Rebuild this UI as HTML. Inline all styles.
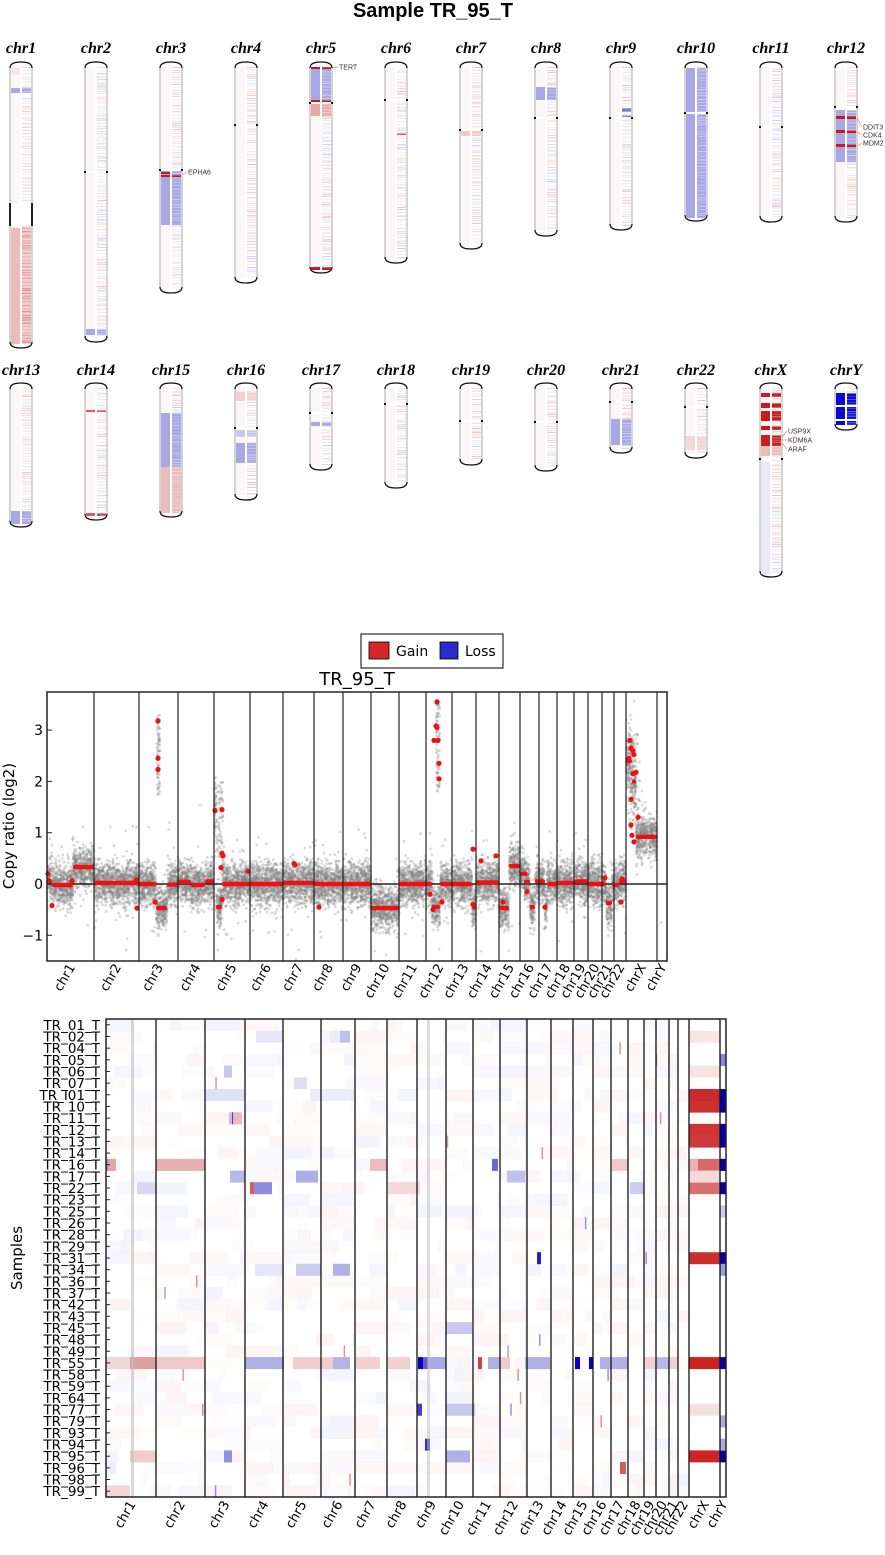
<!DOCTYPE html>
<html><head><meta charset="utf-8"><style>
html,body{margin:0;padding:0;background:#fff;width:885px;height:1555px;overflow:hidden}
svg{display:block}
</style></head><body>
<svg id="s" xmlns="http://www.w3.org/2000/svg" width="885" height="1555" viewBox="0 0 885 1555">
<rect width="885" height="1555" fill="#fff"/>
<text x="433" y="17" font-family="Liberation Sans, sans-serif" font-weight="bold" font-size="20" text-anchor="middle">Sample TR_95_T</text>
<g id="ideo"></g>
<rect x="361" y="634" width="142" height="34" fill="#fff" stroke="#000" stroke-width="1"/>
<rect x="369" y="642" width="20" height="17" fill="#d62728" stroke="#000" stroke-width="0.8"/>
<text x="396" y="656" font-family="DejaVu Sans, sans-serif" font-size="14">Gain</text>
<rect x="440" y="642" width="18" height="17" fill="#2a2ad0" stroke="#000" stroke-width="0.8"/>
<text x="465" y="656" font-family="DejaVu Sans, sans-serif" font-size="14">Loss</text>
<text x="357" y="685" font-family="DejaVu Sans, sans-serif" font-size="18" text-anchor="middle">TR_95_T</text>
<g id="scat"></g>
<g id="heat"></g>
</svg>
<script>
var NS="http://www.w3.org/2000/svg";
var seed=12345;
function R(){seed|=0;seed=seed+0x6D2B79F5|0;var t=Math.imul(seed^seed>>>15,1|seed);t=t+Math.imul(t^t>>>7,61|t)^t;return((t^t>>>14)>>>0)/4294967296;}
function G(){return (R()+R()+R()+R()-2)*1.73;}
function el(p,tag,a,txt){var e=document.createElementNS(NS,tag);for(var k in a)e.setAttribute(k,a[k]);if(txt!==undefined)e.textContent=txt;p.appendChild(e);return e;}

var ig=document.getElementById('ideo');
function ideo(name,cx,top,bot,cen,feats,ly){
  el(ig,'text',{x:cx,y:ly,'font-family':'Liberation Serif, serif','font-weight':'bold','font-style':'italic','font-size':16,'text-anchor':'middle'},name);
  var l=cx-11,r=cx+11;
  el(ig,'path',{d:'M'+l+','+(top+6)+' Q'+l+','+top+' '+cx+','+top+' Q'+r+','+top+' '+r+','+(top+6),fill:'none',stroke:'#111','stroke-width':1.3});
  el(ig,'path',{d:'M'+l+','+(bot-6)+' Q'+l+','+bot+' '+cx+','+bot+' Q'+r+','+bot+' '+r+','+(bot-6),fill:'none',stroke:'#111','stroke-width':1.3});
  el(ig,'line',{x1:l,y1:top+6,x2:l,y2:bot-6,stroke:'#aaa','stroke-width':1});
  el(ig,'line',{x1:r,y1:top+6,x2:r,y2:bot-6,stroke:'#aaa','stroke-width':1});
  var y0=top+5,y1=bot-5;
  el(ig,'rect',{x:cx-10,y:y0,width:9,height:y1-y0,fill:'#fbf7f8'});
  for(var y=y0;y<y1;y+=1.5+R()*2){
    var c=R()<0.5?'200,60,60':(R()<0.6?'90,90,200':'150,150,150');
    el(ig,'rect',{x:cx+1,y:y,width:9,height:1,fill:'rgba('+c+','+(0.08+R()*0.25)+')'});
  }
  feats.forEach(function(f){
    var side=f[3]||'B';
    if(side!='R')el(ig,'rect',{x:cx-10,y:f[0],width:9,height:f[1]-f[0],fill:f[2]});
    if(side!='L'){el(ig,'rect',{x:cx+1,y:f[0],width:9,height:f[1]-f[0],fill:f[2]});
      for(var yy=f[0];yy<f[1];yy+=2+R()*2)el(ig,'rect',{x:cx+1,y:yy,width:9,height:0.8,fill:'rgba(255,255,255,'+(0.2+R()*0.4)+')'});}
  });
  if(cen){
    el(ig,'rect',{x:cx-10,y:cen-1,width:20,height:2,fill:'#fff'});
    el(ig,'rect',{x:l-1,y:cen-1,width:2,height:2,fill:'#111'});
    el(ig,'rect',{x:r-1,y:cen-1,width:2,height:2,fill:'#111'});
  }
}
var B='#a8a8e6',P='#ecbcbc',RD='#cc1a1a';
ideo('chr1',21,62,348,0,[[68,75,'#f6e6e6','L'],[88,93,B],[203,226,'#fff']],53);
el(ig,'line',{x1:10,y1:203,x2:10,y2:226,stroke:'#222','stroke-width':2});
el(ig,'line',{x1:32,y1:203,x2:32,y2:226,stroke:'#222','stroke-width':2});
el(ig,'rect',{x:11,y:228,width:9,height:116,fill:P});
el(ig,'rect',{x:22,y:226,width:9,height:118,fill:'#f2d0d0'});
for(var y=228;y<344;y+=1.5+R()*2.5)el(ig,'rect',{x:22,y:y,width:9,height:1,fill:'rgba(210,70,70,'+(0.2+R()*0.4)+')'});
ideo('chr2',96,62,342,172,[[329,335,B]],53);
ideo('chr3',171,62,293,170,[[171,225,B],[172,174,RD,'L'],[175,177,RD]],53);
ideo('chr4',246,62,283,125,[],53);
ideo('chr5',321,62,273,103,[[68,100,B],[67,69,RD],[100,104,RD],[104,116,'#e8a8a8'],[267,270,RD]],53);
ideo('chr6',396,62,263,100,[[99,101,'#d04040','R'],[133,135,'#d06060','R']],53);
ideo('chr7',471,62,249,130,[[130,136,'#f0c8c8']],53);
ideo('chr8',546,62,236,118,[[87,100,B]],53);
ideo('chr9',621,62,230,118,[[108,112,'#7777cc','R'],[115,117,'#8888d0','R']],53);
ideo('chr10',696,62,221,113,[[68,112,B],[114,218,B]],53);
ideo('chr11',771,62,222,127,[],53);
ideo('chr12',846,62,222,107,[[110,162,B],[116,119,RD],[130,133,RD],[144,147,RD]],53);
ideo('chr13',21,383,527,0,[[511,524,B]],375);
ideo('chr14',96,383,520,0,[[410,412,'#d06060'],[513,516,'#d06060']],375);
ideo('chr15',171,383,517,0,[[413,467,B],[467,513,P]],375);
ideo('chr16',246,383,500,428,[[392,401,'#f0d0d0'],[430,437,'#c8c8ee'],[443,463,B]],375);
ideo('chr17',321,383,470,413,[[412,414,'#d07070'],[422,426,B]],375);
ideo('chr18',396,383,488,404,[],375);
ideo('chr19',471,383,465,421,[],375);
ideo('chr20',546,383,471,422,[],375);
ideo('chr21',621,383,453,402,[[419,445,B]],375);
ideo('chr22',696,383,458,407,[[436,450,'#f2d8d8']],375);
ideo('chrX',771,383,577,459,[[393,397,RD],[403,408,RD],[411,421,RD],[426,430,RD],[435,446,'#c42020'],[446,456,'#ecbcbc'],[462,574,'#e8e8f6','L']],375);
ideo('chrY',846,383,430,0,[[393,425,'#0a0ad0'],[393,425,'#0a0ad0']],375);
el(ig,'rect',{x:835,y:405,width:22,height:2,fill:'#fff'});
el(ig,'rect',{x:835,y:419,width:22,height:2,fill:'#fff'});
function gl(x1,y1,x2,y2,t){el(ig,'line',{x1:x1,y1:y1,x2:x2,y2:y2,stroke:'#e08080','stroke-width':0.7});el(ig,'text',{x:x2+1,y:y2+2.5,'font-family':'Liberation Sans, sans-serif','font-size':7,fill:'#333'},t);}
gl(182,175,187,172,'EPHA6');gl(332,68,338,67,'TERT');
gl(857,118,862,127,'DDIT3');gl(857,132,862,135,'CDK4');gl(857,146,862,143,'MDM2');
gl(782,437,787,431,'USP9X');gl(782,440,787,440,'KDM6A');gl(782,443,787,449,'ARAF');

var sg=document.getElementById('scat');
var sb=[47,94,139,178,214,250,283,314,343,371,399,426,452,476,499,520,539,557,574,588,602,614,626,657,667];
var names=['chr1','chr2','chr3','chr4','chr5','chr6','chr7','chr8','chr9','chr10','chr11','chr12','chr13','chr14','chr15','chr16','chr17','chr18','chr19','chr20','chr21','chr22','chrX','chrY'];
function Y(v){return 884-v*51.3;}
var segs=[[48,52,0.05],[52,73,-0.02],[73,94,0.33],[94,139,0.02],[139,156,0],[156,167,-0.47],[167,178,-0.01],[178,191,0.04],[191,205,-0.02],[205,214,0.05],
[214,216,1.43],[216,222,-0.45],[222,250,0],[250,283,0],[283,314,0.02],[314,343,0],[343,371,0],[371,399,-0.47],[399,426,0],[426,432,0],[432,440,-0.45],[440,452,0],
[452,472,0],[472,476,-0.45],[476,499,0.03],[499,509,-0.47],[509,520,0.35],[520,524,0.2],[524,530,0.04],[530,535,-0.45],[535,539,0.05],[539,545,0.05],[545,547,-0.47],[547,557,0],
[557,574,0.02],[574,588,0.05],[588,602,0],[602,606,0],[606,612,-0.37],[612,614,0],[614,619,-0.02],[619,626,0.05],[626,632,2.4],[632,636,2.0],[636,657,0.92]];
var pts='';
segs.forEach(function(s){
  var n=Math.round((s[1]-s[0])*22);
  for(var i=0;i<n;i++){
    var x=s[0]+R()*(s[1]-s[0]);var v=s[2]+G()*(s[2]>1?0.35:0.2);
    if(R()<0.04)v+=G()*0.5;
    var y=Y(v);if(y<693||y>960)continue;
    pts+='<circle cx="'+x.toFixed(1)+'" cy="'+y.toFixed(1)+'" r="1.4"/>';
  }
});
[[157,160,1.7,3.3],[436,440,1.8,3.6],[216,223,0.5,2.0],[628,640,1.0,3.0]].forEach(function(a){
  for(var i=0;i<70;i++){var x=a[0]+R()*(a[1]-a[0]);var v=a[2]+R()*(a[3]-a[2]);pts+='<circle cx="'+x.toFixed(1)+'" cy="'+Y(v).toFixed(1)+'" r="1.4"/>';}
});
pts+='<circle cx="661" cy="'+Y(-0.75)+'" r="1.4"/><circle cx="666" cy="'+Y(-1.5)+'" r="1.4"/>';
var pg=el(sg,'g',{fill:'#808080','fill-opacity':0.3});pg.innerHTML=pts;
el(sg,'line',{x1:47,y1:884,x2:667,y2:884,stroke:'#222','stroke-width':1.5});
var red='';
segs.forEach(function(s){red+='<rect x="'+s[0]+'" y="'+(Y(s[2])-2.2)+'" width="'+(s[1]-s[0])+'" height="4.4" rx="2"/>';});
[[48,0.2],[49,0.06],[52,-0.42],[72,0.06],[136,0.08],[137,-0.47],[158,3.18],[158,2.45],[158,2.23],[155,-0.35],[215,1.43],[222,1.45],[222,0.6],[223,0.55],[221,0.32],[222,-0.3],[248,0.25],
[294,0.4],[295,0.37],[319,-0.45],[434,2.8],[437,3.55],[437,3.05],[436,3.08],[438,2.8],[439,2.35],[439,2.05],[430,-0.2],[442,-0.35],[433,-0.5],[473,0.68],[473,-0.4],[481,0.45],[496,0.55],[503,-0.35],
[527,-0.15],[525,0.2],[545,-0.45],[605,0.12],[621,-0.35],[622,0.1],[628,2.4],[629,2.45],[630,2.8],[631,2.65],[633,2.15],[633,2.6],[634,2.52],[636,2.18],[638,1.3],[631,1.65],[631,1.15],[632,0.95],[634,0.82]].forEach(function(d){
  red+='<circle cx="'+d[0]+'" cy="'+Y(d[1]).toFixed(1)+'" r="2.6"/>';});
var rg=el(sg,'g',{fill:'#f01010'});rg.innerHTML=red;
sb.forEach(function(x,i){if(i>0&&i<sb.length-1)el(sg,'line',{x1:x,y1:692,x2:x,y2:961,stroke:'#222','stroke-width':1.2});});
el(sg,'rect',{x:47,y:692,width:620,height:269,fill:'none',stroke:'#222','stroke-width':1.5});
[[3,'3'],[2,'2'],[1,'1'],[0,'0'],[-1,'\u22121']].forEach(function(t){
  el(sg,'line',{x1:47,y1:Y(t[0]),x2:52,y2:Y(t[0]),stroke:'#222'});
  el(sg,'text',{x:43,y:Y(t[0])+5,'font-family':'DejaVu Sans, sans-serif','font-size':14,'text-anchor':'end'},t[1]);
});
el(sg,'text',{x:0,y:0,transform:'translate(14,826) rotate(-90)','font-family':'DejaVu Sans, sans-serif','font-size':15,'text-anchor':'middle'},'Copy ratio (log2)');
for(var i=0;i<24;i++){var cx=(sb[i]+sb[i+1])/2;
  el(sg,'text',{x:0,y:0,transform:'translate('+(cx+5)+',967) rotate(-60)','font-family':'DejaVu Sans, sans-serif','font-size':13,'text-anchor':'end'},names[i]);}

var hg=document.getElementById('heat');
var hb=[106,156,205,245,283,321,355,387,417,446,473,500,527,551,573,593,611,628,644,656,669,678,689,720,726];
var rows=['TR_01_T','TR_02_T','TR_04_T','TR_05_T','TR_06_T','TR_07_T','TR_I01_T','TR_10_T','TR_11_T','TR_12_T','TR_13_T','TR_14_T','TR_16_T','TR_17_T','TR_22_T','TR_23_T','TR_25_T','TR_26_T','TR_28_T','TR_29_T','TR_31_T','TR_34_T','TR_36_T','TR_37_T','TR_42_T','TR_43_T','TR_45_T','TR_48_T','TR_49_T','TR_55_T','TR_58_T','TR_59_T','TR_64_T','TR_77_T','TR_79_T','TR_93_T','TR_94_T','TR_95_T','TR_96_T','TR_98_T','TR_99_T'];
var top0=1019,H=478/41;
function ry(i){return top0+i*H;}
var hs='';
function cell(x1,x2,i,col){hs+='<rect x="'+x1+'" y="'+ry(i).toFixed(1)+'" width="'+(x2-x1)+'" height="'+(H+0.3).toFixed(1)+'" fill="'+col+'"/>';}
for(var i=0;i<41;i++){for(var c=0;c<22;c++){
  var a=hb[c],b=hb[c+1];var x=a;
  while(x<b){var w=Math.min(b-x,6+R()*30);var t=R();
    if(t<0.3)cell(x,x+w,i,'rgba(220,120,120,'+(0.02+R()*0.06).toFixed(2)+')');
    else if(t<0.5)cell(x,x+w,i,'rgba(120,120,220,'+(0.02+R()*0.06).toFixed(2)+')');
    if(R()<0.012){var xx=x+R()*w;cell(xx,xx+1.5,i,R()<0.6?'rgba(200,40,40,0.5)':'rgba(40,40,200,0.5)');}
    x+=w;}
}}
[[6,'#cc2a2a'],[7,'#cc3030'],[9,'#cc3535'],[10,'#cc3a3a'],[12,'#d66a6a'],[14,'#d87070'],[20,'#c83030'],[29,'#cc2222'],[37,'#cc2525']].forEach(function(r){cell(689,720,r[0],r[1]);cell(720,726,r[0],'#0000b0');});
[[1,'#f8e4e4'],[4,'#f7e3e3'],[13,'#f2dada'],[33,'#f4e0e0']].forEach(function(r){cell(689,720,r[0],r[1]);});
cell(720,726,3,'#8888dd');cell(720,726,16,'#c8c8ee');cell(720,726,21,'#9999dd');cell(720,726,34,'#aaaadd');cell(720,726,36,'#aaaadd');
cell(689,698,12,'#eab0b0');cell(721,726,12,'#0000b0');
[[106,130,'#f2d6d6'],[130,156,'#dfa0a0'],[156,205,'#f0c8c8'],[245,284,'#b0b0e4'],[293,321,'#f0cece'],[321,333,'#f0cece'],[333,350,'#b4b4e6'],[355,380,'#f3d0d0'],[387,410,'#f3d0d0'],
[418,423,'#0000c0'],[423,428,'#6060cc'],[428,446,'#a8a8e4'],[478,482,'#cc4444'],[488,500,'#b0b0e4'],[500,510,'#f0cccc'],[525,550,'#b0b0e4'],[575,580,'#0000c8'],[589,593,'#0000c8'],[600,628,'#b0b0e4'],[644,656,'#f0d0d0'],[656,669,'#b8b8e8'],[669,678,'#f0d0d0']].forEach(function(c){cell(c[0],c[1],29,c[2]);});
cell(108,116,12,'#e5a5a5');cell(106,108,12,'#8888dd');cell(156,205,12,'#e8b0b0');cell(370,387,12,'#ecbcbc');cell(492,498,12,'#6a6ad0');cell(612,628,12,'#f0c8c8');
cell(230,245,13,'#b8b8e8');cell(296,318,13,'#aeaee6');cell(507,525,13,'#c0c0ec');
cell(137,156,14,'#d8d8f4');cell(254,272,14,'#8c8cdc');cell(250,254,14,'#d06060');cell(388,420,14,'#f2d8d8');cell(630,644,14,'#ccccee');
cell(229,236,8,'#c0c0ea');cell(232,233,8,'#cc2020');cell(236,242,8,'#ecbcbc');
cell(256,284,1,'#e6e6f8');cell(340,350,1,'#c0c0ec');cell(330,340,1,'#ececf8');
cell(224,232,4,'#c8c8ee');cell(294,307,5,'#dedef6');
cell(205,245,6,'#e0e0f6');cell(310,354,6,'#ececf8');
cell(446,472,26,'#c8c8ee');cell(446,475,33,'#c8c8ee');cell(446,470,37,'#b0b0e4');
cell(537,541,20,'#2020c0');cell(224,232,37,'#9090dd');cell(105,130,40,'#f4d6d6');cell(130,156,37,'#f2cccc');
cell(255,284,21,'#e6e6f8');cell(296,321,21,'#ccccee');cell(333,350,21,'#b0b0e6');
cell(417,422,33,'#4040c8');cell(425,430,36,'#3030c0');
cell(106,116,38,'#eeeef8');cell(620,626,38,'#d06060');
var hgg=el(hg,'g',{});hgg.innerHTML=hs;
el(hg,'rect',{x:131,y:1019,width:3,height:478,fill:'rgba(190,190,190,0.6)'});
el(hg,'rect',{x:427,y:1019,width:3,height:478,fill:'rgba(190,190,190,0.5)'});
el(hg,'rect',{x:525,y:1019,width:2,height:478,fill:'rgba(200,200,200,0.4)'});
hb.forEach(function(x,i){if(i>0&&i<hb.length-1)el(hg,'line',{x1:x,y1:1019,x2:x,y2:1497,stroke:'#111','stroke-width':1.3});});
el(hg,'rect',{x:106,y:1019,width:620,height:478,fill:'none',stroke:'#222','stroke-width':1.5});
rows.forEach(function(n,i){var y=ry(i)+H/2;
  el(hg,'line',{x1:106,y1:y,x2:110,y2:y,stroke:'#222'});
  el(hg,'text',{x:100,y:y+5,'font-family':'DejaVu Sans, sans-serif','font-size':13.5,'text-anchor':'end'},n);});
el(hg,'text',{x:0,y:0,transform:'translate(22,1258) rotate(-90)','font-family':'DejaVu Sans, sans-serif','font-size':15,'text-anchor':'middle'},'Samples');
for(var i=0;i<24;i++){var cx=(hb[i]+hb[i+1])/2;
  el(hg,'text',{x:0,y:0,transform:'translate('+(cx+5)+',1504) rotate(-60)','font-family':'DejaVu Sans, sans-serif','font-size':13,'text-anchor':'end'},names[i]);}
</script>
</body></html>
